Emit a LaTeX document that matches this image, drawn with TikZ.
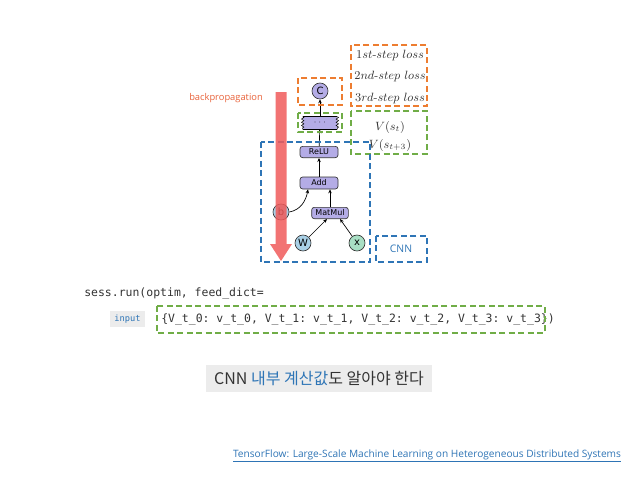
\documentclass[tikz,border=0pt]{standalone}
\usepackage{fontspec}
\setsansfont{Open Sans}
\setmonofont{DejaVu Sans Mono}
\newfontfamily\nodefont{DejaVu Sans}
\newfontfamily\krfont{Noto Sans CJK KR}
\usetikzlibrary{arrows.meta,decorations.pathmorphing}

\definecolor{boxorange}{HTML}{ED7D31}
\definecolor{boxgreen}{HTML}{70AD47}
\definecolor{boxblue}{HTML}{2E75B6}
\definecolor{oplav}{HTML}{B4ACE6}
\definecolor{varblue}{HTML}{A9D0E6}
\definecolor{vargreen}{HTML}{A8DFC4}
\definecolor{backred}{HTML}{F05A5A}
\definecolor{backtext}{HTML}{E8623A}
\definecolor{bggray}{HTML}{ECECEC}
\definecolor{linkblue}{HTML}{2E74B5}

\tikzset{
	dashbox/.style={line width=1.5pt, dash pattern=on 4.5pt off 2.6pt},
	opnode/.style={draw=black!80, fill=oplav, rounded corners=2pt, line width=0.5pt,
		minimum width=28.5pt, minimum height=8.5pt, inner sep=0pt, font=\nodefont\fontsize{6}{7}\selectfont},
	varnode/.style={draw=black!80, circle, line width=0.5pt, minimum size=12pt, inner sep=0pt,
		font=\nodefont\fontsize{7.5}{8}\selectfont},
	flow/.style={-{Stealth[length=3pt,width=2.6pt]}, line width=0.5pt},
	jagged/.style={line width=0.4pt, decorate, decoration={zigzag, segment length=2.4pt, amplitude=0.9pt}},
	losstext/.style={text=black!80, font=\fontsize{8.6}{10}\selectfont}
}

\begin{document}
\begin{tikzpicture}[x=0.75pt, y=-0.75pt]
			%%%%% START %%%%%
			\useasboundingbox (0, 0) rectangle (638, 479);
			
			% graph
			\node[varnode, fill=oplav] (C) at (320, 91) {C};
			\node[opnode, draw=none, sharp corners, minimum width=25.5pt, minimum height=9pt] (dots) at (320, 123) {$\cdots$};
			\draw[line width=0.5pt] (dots.north west) -- (dots.north east);
			\draw[line width=0.5pt] (dots.south west) -- (dots.south east);
			\draw[jagged] (dots.north west) -- (dots.south west);
			\draw[jagged] (dots.north east) -- (dots.south east);
			\node[opnode] (relu) at (319, 152) {ReLU};
			\node[opnode, minimum height=9pt] (add) at (319, 183) {Add};
			\node[opnode, minimum width=27.5pt] (matmul) at (330, 213) {MatMul};
			\node[varnode, fill=varblue] (b) at (281, 212) {b};
			\node[varnode, fill=varblue] (W) at (303, 243) {W};
			\node[varnode, fill=vargreen] (x) at (357, 243) {x};
			
			\draw[flow] (W) -- (matmul.south -| 327, 0);
			\draw[flow] (x) -- (matmul.south -| 340, 0);
			\draw[flow] (b.east) to[out=10, in=-100] (add.south -| 308, 0);
			\draw[flow] (matmul.north) -- (matmul.north |- add.south);
			\draw[flow] (add) -- (relu);
			\draw[flow] (relu) -- (dots);
			\draw[flow] (dots) -- (C);
			
			% dashed boxes
			\draw[dashbox, boxorange] (298, 78) rectangle (342, 105);
			\draw[dashbox, boxgreen] (298, 113) rectangle (342, 132);
			\draw[dashbox, boxorange] (351, 45) rectangle (427, 106);
			\draw[dashbox, boxgreen] (351, 111) rectangle (427, 154);
			\draw[dashbox, boxblue] (261, 142) rectangle (370, 262);
			\draw[dashbox, boxblue] (376, 236) rectangle (427, 262);
			
			\node[losstext] (loss1) at (390, 55) {$1st$-$step\ loss$};
			\node[losstext] (loss2) at (390, 76) {$2nd$-$step\ loss$};
			\node[losstext] (loss3) at (390, 98) {$3rd$-$step\ loss$};
			\node[losstext] (vt) at (390, 127) {$V(s_t)$};
			\node[losstext] (vt3) at (390, 145) {$V(s_{t+3})$};
			\node[text=boxblue, font=\sffamily\fontsize{7.8}{9}\selectfont] (cnn) at (401, 249) {CNN};
			
			% backpropagation arrow
			\fill[backred, fill opacity=0.85] (275.5, 92) -- (286.5, 92) -- (286.5, 244) -- (292, 244) -- (281, 261)
				-- (270, 244) -- (275.5, 244) -- cycle;
			\node[text=backtext, font=\sffamily\fontsize{7}{8}\selectfont] (backprop) at (226, 98) {backpropagation};
			
			% code
			\node[anchor=west, inner sep=0pt, text=black!80, font=\ttfamily\fontsize{8.6}{10}\selectfont] (line1) at (84, 293) {sess.run(optim,~feed\_dict=};
			\fill[bggray] (110, 311) rectangle (145, 327);
			\node[text=boxblue, font=\ttfamily\fontsize{6.5}{8}\selectfont] (input) at (127.5, 319) {input};
			\node[anchor=west, inner sep=0pt, text=black!80, font=\ttfamily\fontsize{8.6}{10}\selectfont] (line2) at (161, 319)
				{\{V\_t\_0:~v\_t\_0,~V\_t\_1:~v\_t\_1,~V\_t\_2:~v\_t\_2,~V\_t\_3:~v\_t\_3\})};
			\draw[dashbox, boxgreen] (157, 306) rectangle (545, 333);
			
			% note
			\fill[bggray] (206, 365) rectangle (432, 392);
			\node[text=black!80, font=\krfont\fontsize{12}{14}\selectfont] (note) at (319, 378.5) {CNN \textcolor{boxblue}{내부 계산값}도 알아야 한다};
			
			\node[text=linkblue, font=\sffamily\fontsize{7.6}{9}\selectfont] (link) at (427, 456) {\underline{TensorFlow: Large-Scale Machine Learning on Heterogeneous Distributed Systems}};
			%%%%% END %%%%%
		\end{tikzpicture}
\end{document}
